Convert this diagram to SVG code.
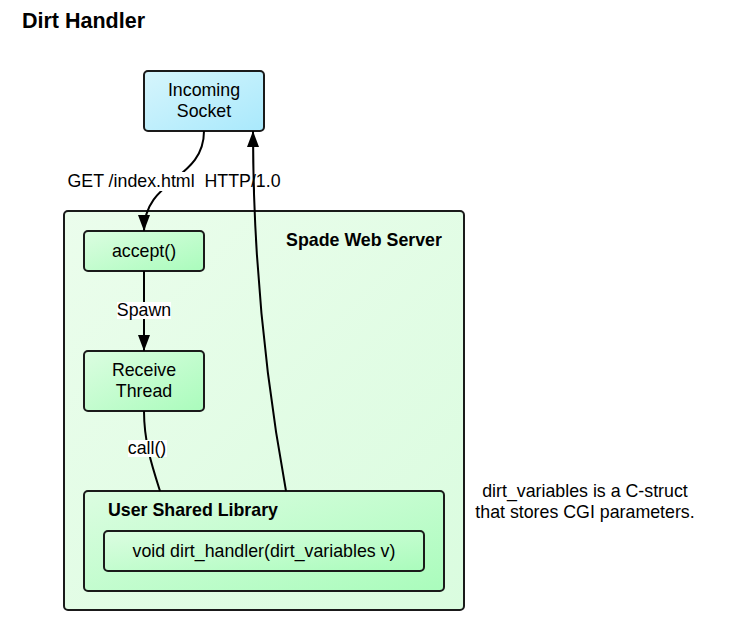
<svg xmlns="http://www.w3.org/2000/svg" width="734" height="634" viewBox="0 0 734 634">
<defs>
<linearGradient id="gBlue" x1="0" y1="0" x2="1" y2="1">
<stop offset="0" stop-color="#d6f5fc"/>
<stop offset="1" stop-color="#a9e9fc"/>
</linearGradient>
<linearGradient id="gGreen" x1="0" y1="0" x2="1" y2="1">
<stop offset="0" stop-color="#dcfde1"/>
<stop offset="1" stop-color="#aafcbc"/>
</linearGradient>
<linearGradient id="gPale" x1="0" y1="0" x2="1" y2="1">
<stop offset="0" stop-color="#ebfdec"/>
<stop offset="1" stop-color="#dafcdf"/>
</linearGradient>
<marker id="arr" viewBox="0 0 16 12" refX="16" refY="6" markerWidth="16" markerHeight="12" markerUnits="userSpaceOnUse" orient="auto">
<path d="M0,0 L16,6 L0,12 Z" fill="#000"/>
</marker>
</defs>
<style>
.box{stroke:#1a1a1a;stroke-width:2}
.t{font-family:"Liberation Sans",Arial,sans-serif;font-size:17.8px;fill:#000;white-space:pre}
.b{font-family:"Liberation Sans",Arial,sans-serif;font-weight:bold;fill:#000}
.c{fill:none;stroke:#000;stroke-width:2}
.lbl{fill:#fff}
</style>
<rect width="734" height="634" fill="#fff"/>
<text class="b" x="22" y="28" font-size="21.5">Dirt Handler</text>

<g id="spade-web-server">
<rect class="box" x="64" y="211" width="400" height="399" rx="4" fill="url(#gPale)"/>
<text class="b" x="364" y="246" font-size="17.8" text-anchor="middle">Spade Web Server</text>
</g>

<g id="incoming-socket">
<rect class="box" x="144" y="71" width="120" height="60" rx="4" fill="url(#gBlue)"/>
<text class="t" x="204" y="96" text-anchor="middle">Incoming</text>
<text class="t" x="204" y="117" text-anchor="middle">Socket</text>
</g>

<g id="accept">
<rect class="box" x="84" y="231" width="120" height="40" rx="4" fill="url(#gGreen)"/>
<text class="t" x="144" y="257" text-anchor="middle">accept()</text>
</g>

<g id="receive-thread">
<rect class="box" x="84" y="351" width="120" height="60" rx="4" fill="url(#gGreen)"/>
<text class="t" x="144" y="376" text-anchor="middle">Receive</text>
<text class="t" x="144" y="397" text-anchor="middle">Thread</text>
</g>

<g id="user-shared-library">
<rect class="box" x="84" y="491" width="360" height="100" rx="4" fill="url(#gGreen)"/>
<text class="b" x="108" y="516" font-size="17.8">User Shared Library</text>
</g>

<g id="dirt-handler">
<rect class="box" x="104" y="531" width="320" height="40" rx="4" fill="url(#gGreen)"/>
<text class="t" x="264" y="557" text-anchor="middle">void dirt_handler(dirt_variables v)</text>
</g>

<g id="note">
<text class="t" x="585" y="497" text-anchor="middle">dirt_variables is a C-struct</text>
<text class="t" x="585" y="518" text-anchor="middle">that stores CGI parameters.</text>
</g>

<g id="connectors">
<path class="c" d="M204,131 C204,181 144,178 144,231" marker-end="url(#arr)"/>
<rect class="lbl" x="65" y="172" width="218" height="19"/>
<text class="t" x="174" y="187" text-anchor="middle" xml:space="preserve">GET /index.html  HTTP/1.0</text>
<path class="c" d="M144,271 L144,351" marker-end="url(#arr)"/>
<rect class="lbl" x="117" y="302" width="54" height="17"/>
<text class="t" x="144" y="316" text-anchor="middle">Spawn</text>
<path class="c" d="M144,411 C144,442 152,466 160,491"/>
<rect class="lbl" x="128" y="440" width="39" height="17"/>
<text class="t" x="147" y="454" text-anchor="middle">call()</text>
<path class="c" d="M286,491 Q253,311 253,131" marker-end="url(#arr)"/>
</g>
</svg>
